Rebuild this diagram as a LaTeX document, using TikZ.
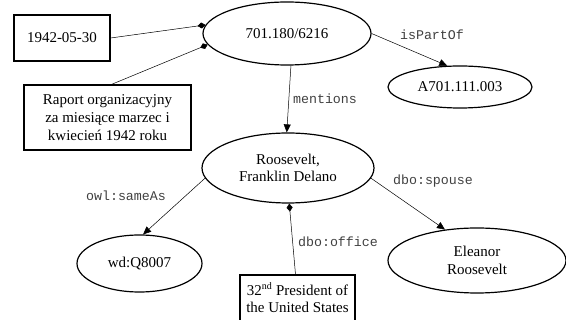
\documentclass[tikz,border=0pt]{standalone}
\usepackage{fontspec}
\setmainfont{Liberation Serif}
\newfontfamily\labfont{Liberation Mono}
\usetikzlibrary{shapes.geometric,arrows.meta}
\tikzset{
  ell/.style={ellipse,draw,line width=1.2pt,inner sep=0pt,align=center,font=\fontsize{15}{17.7}\selectfont},
  box/.style={rectangle,draw,line width=1.2pt,inner sep=0pt,align=center,font=\fontsize{15}{17.7}\selectfont},
  lab/.style={font=\labfont\fontsize{13.3}{15}\selectfont,text=black!75,inner sep=0pt},
  arr/.style={line width=0.5pt,-{Triangle[length=8pt,width=7pt]}},
  dia/.style={line width=0.5pt,-{Diamond[length=8pt,width=6pt]}}
}
\begin{document}
\begin{tikzpicture}[x=1pt,y=-1pt]
\useasboundingbox (0,0) rectangle (566,320);
\node[ell,minimum width=168pt,minimum height=63pt] (doc) at (287,33.5) {701.180/6216};
\node[box,minimum width=96pt,minimum height=46pt] (date) at (62,38) {1942-05-30};
\node[box,minimum width=167pt,minimum height=65pt] (title) at (107.5,117.5) {Raport organizacyjny\\za miesiące marzec i\\kwiecień 1942 roku};
\node[ell,minimum width=144pt,minimum height=42pt] (part) at (460,87) {A701.111.003};
\node[ell,minimum width=172pt,minimum height=70pt] (fdr) at (288,168) {Roosevelt,\\Franklin Delano};
\node[ell,minimum width=125pt,minimum height=57pt] (wd) at (139.5,263.5) {wd:Q8007};
\node[ell,minimum width=178pt,minimum height=65pt] (er) at (477,260.5) {Eleanor\\Roosevelt};
\node[box,minimum width=115pt,minimum height=46pt] (pres) at (297.5,298) {32\textsuperscript{\fontsize{10}{10}\selectfont nd} President of\\the United States};

\draw[dia] (date.east) -- (doc.174);
\draw[dia] ([xshift=4pt]title.north) -- (doc.188);
\draw[arr] (doc.277) -- node[lab,right=4pt,pos=0.5] (l1) {mentions} (fdr.92);
\draw[arr] (doc.east) -- (part.121);
\node[lab] (l2) at (432,35) {isPartOf};
\draw[arr] (fdr.187) -- (wd.83);
\node[lab] (l3) at (126,196) {owl:sameAs};
\draw[arr] (fdr.353) -- (er.136);
\node[lab] (l4) at (433,181) {dbo:spouse};
\draw[dia] ([xshift=-2pt]pres.north) -- (fdr.272);
\node[lab] (l5) at (338,242) {dbo:office};
\end{tikzpicture}
\end{document}
